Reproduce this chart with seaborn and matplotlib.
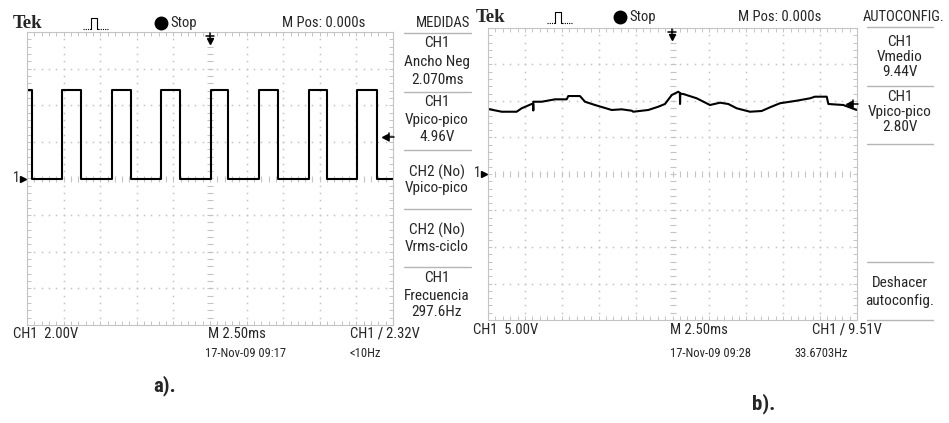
import numpy as np
import pandas as pd
import matplotlib
matplotlib.use("Agg")
import matplotlib.pyplot as plt
from matplotlib.lines import Line2D
from matplotlib import font_manager
import seaborn as sns

# ---------------- data ----------------
# a) CH1 square wave (2.00 V/div, 2.50 ms/div); edge instants in ms
sq_rise_ms = [-10.09, -6.67, -3.35, 0.05, 3.37, 6.78, 10.06]
sq_fall_ms = [-12.18, -8.81, -5.42, -2.05, 1.25, 4.67, 8.01, 11.39]
sq_high_v = 4.85
sq_low_v = 0.0

# b) CH1 output ripple (5.00 V/div, 2.50 ms/div)
out_t_ms = [-12.48, -11.57, -10.56, -10.22, -9.54, -9.44, -9.43, -9.43, -8.86,
            -7.96, -7.17, -7.06, -6.27, -5.93, -5.25, -4.12, -3.44, -2.76,
            -2.66, -1.64, -0.96, -0.51, -0.05, 0.39, 0.50, 0.51, 0.53, 0.73,
            1.64, 2.54, 3.22, 3.78, 4.35, 5.25, 6.04, 6.61, 7.28, 8.41, 9.32,
            9.65, 10.45, 10.56, 11.57, 12.48]
out_v = [8.90, 8.53, 8.53, 9.00, 9.59, 9.59, 8.70, 9.90, 9.90,
         10.23, 10.23, 10.68, 10.68, 9.90, 9.45, 8.77, 8.86, 8.67,
         8.53, 8.77, 9.22, 9.59, 10.82, 11.27, 11.10, 9.59, 11.00, 10.96,
         10.37, 9.45, 9.77, 9.59, 9.00, 8.53, 8.63, 9.14, 9.69, 10.04, 10.37,
         10.59, 10.59, 9.59, 9.45, 8.77]

meas_a = [("CH1", "Ancho Neg", "2.070ms"), ("CH1", "Vpico-pico", "4.96V"),
          ("CH2 (No)", "Vpico-pico", ""), ("CH2 (No)", "Vrms-ciclo", ""),
          ("CH1", "Frecuencia", "297.6Hz")]
meas_b = [("CH1", "Vmedio", "9.44V"), ("CH1", "Vpico-pico", "2.80V")]

# ---------------- style ----------------
sns.set_style("white")
names = {f.name for f in font_manager.fontManager.ttflist}
NARROW = "Liberation Sans"
for cand in ["Liberation Sans Narrow", "Roboto Condensed", "Open Sans Condensed",
             "Noto Sans Condensed", "DejaVu Sans Condensed"]:
    if cand in names:
        NARROW = cand
        break
plt.rcParams["font.family"] = [NARROW, "DejaVu Sans"]

W, H = 949, 423
fig = plt.figure(figsize=(W / 100, H / 100), dpi=100)
fig.patch.set_facecolor("white")

GRID = "#c4c4c4"
FS = 10.5     # screen annotation size
FS_MEAS = 11.0
FS_SMALL = 9.0


def fx(x):
    return x / W


def fy(y):
    return 1 - y / H


def txt(x, y, s, size=FS, ha="center", **kw):
    fig.text(fx(x), fy(y), s, ha=ha, va="center", fontsize=size, **kw)


def fline(xs, ys, **kw):
    fig.add_artist(Line2D([fx(v) for v in xs], [fy(v) for v in ys],
                          transform=fig.transFigure, **kw))


def scope_axes(x0, x1, y0, y1, vdiv):
    ax = fig.add_axes([fx(x0), fy(y1), fx(x1) - fx(x0), fy(y0) - fy(y1)])
    ax.set_xlim(-12.5, 12.5)
    ax.set_ylim(-4 * vdiv, 4 * vdiv)
    for s in ax.spines.values():
        s.set_color(GRID)
        s.set_linewidth(0.8)
    ax.set_xticks([])
    ax.set_yticks([])
    ax.set_xticks(np.arange(-12.5, 12.51, 0.5), minor=True)
    ax.set_yticks(np.arange(-4 * vdiv, 4 * vdiv + 1e-9, vdiv / 5), minor=True)
    ax.tick_params(which="minor", direction="in", length=3, width=0.7,
                   color=GRID, top=True, right=True, bottom=True, left=True,
                   labelbottom=False, labelleft=False)
    # dotted graticule
    ysub = np.arange(-4 * vdiv, 4 * vdiv + 1e-9, vdiv / 5)
    xsub = np.arange(-12.5, 12.51, 0.5)
    for gx in np.arange(-10, 10.1, 2.5):
        if abs(gx) < 1e-9:
            ax.plot(np.zeros_like(ysub), ysub, ls="none", marker="_",
                    ms=4, mew=0.8, color=GRID)
        else:
            ax.plot(np.full_like(ysub, gx), ysub, ls="none", marker="s",
                    ms=1.1, mew=0, color=GRID)
    for k in range(-3, 4):
        gy = k * vdiv
        if k == 0:
            ax.plot(xsub, np.zeros_like(xsub), ls="none", marker="|",
                    ms=4, mew=0.8, color=GRID)
        else:
            ax.plot(xsub, np.full_like(xsub, gy), ls="none", marker="s",
                    ms=1.1, mew=0, color=GRID)
    return ax


def pulse_icon(x0, y0):
    # small pulse symbol in the header
    fline([x0, x0 + 7], [y0 + 6, y0 + 6], color="black", lw=0.8, ls=(0, (1, 1)))
    fline([x0 + 7, x0 + 8, x0 + 8, x0 + 14, x0 + 14, x0 + 15],
          [y0 + 6, y0 + 6, y0 - 5, y0 - 5, y0 + 6, y0 + 6], color="black", lw=0.8)
    fline([x0 + 15, x0 + 26], [y0 + 6, y0 + 6], color="black", lw=0.8, ls=(0, (1, 1)))


def header(y, xs, right_label):
    tek_x, icon_x, stop_x, mpos_x, lab_x = xs
    txt(tek_x, y, "Tek", size=13.5, ha="left", family=["Liberation Serif"],
        weight="bold")
    pulse_icon(icon_x, y)
    fig.add_artist(Line2D([fx(stop_x + 6)], [fy(y)], marker="o", ms=9,
                          color="black", transform=fig.transFigure))
    txt(stop_x + 15, y, "Stop", ha="left")
    txt(mpos_x, y, "M Pos: 0.000s", ha="left")
    txt(lab_x, y, right_label, ha="right")


def trig_marks(ax_x0, ax_x1, ax_top, gnd_y, lvl_y, cx):
    # trigger position arrow
    fline([cx, cx], [ax_top + 1, ax_top + 8], color="black", lw=1.1)
    fline([cx - 4, cx + 4], [ax_top + 4, ax_top + 4], color="black", lw=1.1)
    fig.add_artist(Line2D([fx(cx)], [fy(ax_top + 9)], marker="v", ms=5,
                          color="black", transform=fig.transFigure))
    # trigger level arrow
    fline([ax_x1 - 8, ax_x1 + 1], [lvl_y, lvl_y], color="black", lw=1.1)
    fline([ax_x1 - 4, ax_x1 - 4], [lvl_y - 4, lvl_y + 4], color="black", lw=1.1)
    fig.add_artist(Line2D([fx(ax_x1 - 8)], [fy(lvl_y)], marker="<", ms=5,
                          color="black", transform=fig.transFigure))
    # ground reference
    txt(ax_x0 - 11, gnd_y - 1, "1", size=10)
    fig.add_artist(Line2D([fx(ax_x0 - 4)], [fy(gnd_y)], marker=">", ms=4,
                          color="black", transform=fig.transFigure))


# ---------------- panel a) ----------------
axa = scope_axes(27, 393, 32, 325, 2.0)
edges = sorted([(t, "f") for t in sq_fall_ms] + [(t, "r") for t in sq_rise_ms])
sq_t, sq_v = [-12.5], [sq_high_v]
for t, kind in edges:
    a, b = (sq_high_v, sq_low_v) if kind == "f" else (sq_low_v, sq_high_v)
    sq_t += [t, t]
    sq_v += [a, b]
sq_t.append(12.5)
sq_v.append(sq_v[-1])
df_a = pd.DataFrame({"t": sq_t, "v": sq_v})
sns.lineplot(data=df_a, x="t", y="v", ax=axa, sort=False, estimator=None,
             color="black", lw=1.5)
axa.set_xlabel("")
axa.set_ylabel("")

header(23, (13, 83, 155, 282, 470), "MEDIDAS")
trig_marks(27, 393, 32, 179, 137, 210)

for yy in [33, 92, 150, 209, 267]:
    fline([404, 471], [yy, yy], color="#b5b5b5", lw=1.0)
rows_a = [(43, 62, 80), (102, 120, 137), (172, 188, None), (230, 247, None),
          (278, 296, 312)]
for (l1, l2, l3), (y1, y2, y3) in zip(meas_a, rows_a):
    txt(437, y1, l1, size=FS_MEAS)
    txt(437, y2, l2, size=FS_MEAS)
    if l3:
        txt(437, y3, l3, size=FS_MEAS)

txt(13, 334, "CH1  2.00V", ha="left")
txt(208, 334, "M 2.50ms", ha="left")
txt(350, 334, "CH1 \u2215 2.32V", ha="left")
txt(205, 353, "17-Nov-09 09:17", size=FS_SMALL, ha="left")
txt(349, 353, "<10Hz", size=FS_SMALL, ha="left")
txt(165, 386, "a).", size=15, weight="bold")

# ---------------- panel b) ----------------
axb = scope_axes(488, 857, 28, 320, 5.0)
df_b = pd.DataFrame({"t": out_t_ms, "v": out_v})
sns.lineplot(data=df_b, x="t", y="v", ax=axb, sort=False, estimator=None,
             color="black", lw=1.5)
axb.set_xlabel("")
axb.set_ylabel("")

header(17, (476, 547, 614, 738, 944), "AUTOCONFIG.")
trig_marks(488, 857, 28, 174, 104, 672)

for yy in [27, 86, 144, 262, 320]:
    fline([867, 933], [yy, yy], color="#b5b5b5", lw=1.0)
for (l1, l2, l3), (y1, y2, y3) in zip(meas_b, [(42, 57, 72), (97, 112, 127)]):
    txt(900, y1, l1, size=FS_MEAS)
    txt(900, y2, l2, size=FS_MEAS)
    txt(900, y3, l3, size=FS_MEAS)
txt(900, 283, "Deshacer", size=FS_MEAS)
txt(900, 301, "autoconfig.", size=FS_MEAS)

txt(473, 330, "CH1  5.00V", ha="left")
txt(670, 330, "M 2.50ms", ha="left")
txt(812, 330, "CH1 \u2215 9.51V", ha="left")
txt(670, 353, "17-Nov-09 09:28", size=FS_SMALL, ha="left")
txt(794, 353, "33.6703Hz", size=FS_SMALL, ha="left")
txt(764, 404, "b).", size=15, weight="bold")

fig.savefig("out.png", dpi=100, facecolor="white")
